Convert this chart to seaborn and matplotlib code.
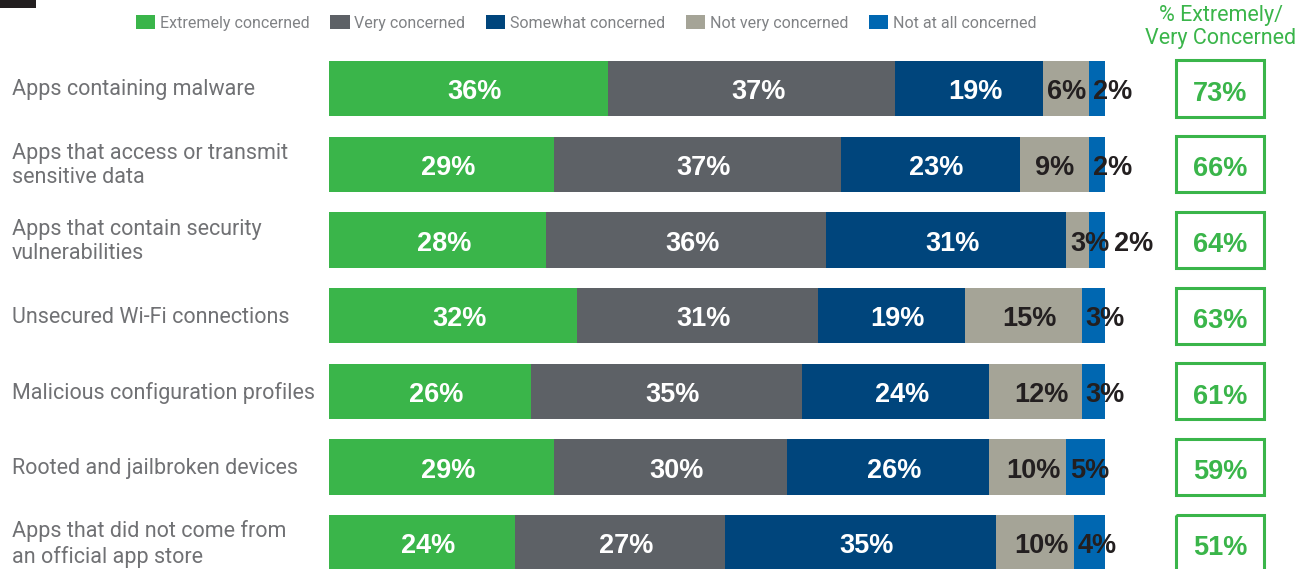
import matplotlib
matplotlib.use("Agg")
import matplotlib.pyplot as plt
from matplotlib.patches import Rectangle, Patch
import seaborn as sns
import pandas as pd
import numpy as np


# survey rows, top to bottom
categories = [
    "Apps containing malware",
    "Apps that access or transmit\nsensitive data",
    "Apps that contain security\nvulnerabilities",
    "Unsecured Wi-Fi connections",
    "Malicious configuration profiles",
    "Rooted and jailbroken devices",
    "Apps that did not come from\nan official app store",
]
levels = ["Extremely concerned", "Very concerned", "Somewhat concerned",
          "Not very concerned", "Not at all concerned"]
extremely = [36, 29, 28, 32, 26, 29, 24]
very = [37, 37, 36, 31, 35, 30, 27]
somewhat = [19, 23, 31, 19, 24, 26, 35]
not_very = [6, 9, 3, 15, 12, 10, 10]
not_at_all = [2, 2, 2, 3, 3, 5, 4]
top_two = [73, 66, 64, 63, 61, 59, 51]

colors = ["#3ab54a", "#5d6166", "#00457c", "#a5a497", "#0067b1"]
label_colors = ["white", "white", "white", "#231f20", "#231f20"]
green = "#3ab54a"
thin_font = ["Roboto", "DejaVu Sans"]

W, H = 1311, 569
sns.set_theme(style="white")
plt.rcParams["font.family"] = ["Liberation Sans", "DejaVu Sans"]

fig = plt.figure(figsize=(W / 100, H / 100), dpi=100)

# main axes: 0..100% spans x px 329 -> 1105, rows ~75.7 px apart
row_h = 75.7
x0, x1 = 329, 1105
top_px = 88.5 - row_h / 2
ax = fig.add_axes([x0 / W, 0, (x1 - x0) / W, 1 - top_px / H])
y_bottom = 6 + (H - 542.7) / row_h

values = np.array([extremely, very, somewhat, not_very, not_at_all])
cum = values.cumsum(axis=0)

# stacked bars: draw cumulative totals from the largest down
for i in range(len(levels) - 1, -1, -1):
    df = pd.DataFrame({"category": categories, "value": cum[i]})
    sns.barplot(data=df, x="value", y="category", orient="h", color=colors[i],
                width=0.73, saturation=1, errorbar=None, ax=ax, linewidth=0)

ax.set_xlim(0, 100)
ax.set_ylim(y_bottom, -0.5)
ax.axis("off")

# segment labels
for r in range(len(categories)):
    start = 0
    prev_small_start = None
    for i in range(len(levels)):
        v = values[i][r]
        txt = f"{v}%"
        kw = dict(color=label_colors[i], fontsize=19.5, fontweight="bold",
                  va="center", clip_on=False)
        if v <= 5:
            xs = start + 0.5
            if prev_small_start is not None and xs - prev_small_start < 5.5:
                xs = 100 + 1.2
            ax.text(xs, r + 0.05, txt, ha="left", **kw)
            prev_small_start = xs
        else:
            nudge = 0.8 if v >= 10 else 0
            ax.text(start + v / 2 + nudge, r + 0.05, txt, ha="center", **kw)
        start += v

    # "% extremely / very" box
    bx = (1176 - x0) / 7.76
    bw = 88 / 7.76
    ax.add_patch(Rectangle((bx, r - 0.37), bw, 0.74, fill=False, edgecolor=green,
                           linewidth=2.2, clip_on=False))
    ax.text(bx + bw / 2, r + 0.07, f"{top_two[r]}%", color=green, fontsize=19.5,
            fontweight="bold", ha="center", va="center", clip_on=False)

    # category label
    fig.text(12 / W, 1 - (90 + r * row_h) / H, categories[r], ha="left", va="center",
             color="#707174", fontsize=15.5, linespacing=1.22, family=thin_font)

# header of the right column
fig.text(1221 / W, 1 - 27 / H, "% Extremely/\nVery Concerned", ha="center", va="center",
         color=green, fontsize=15.5, linespacing=1.08, family=thin_font)

# legend
handles = [Patch(facecolor=c, edgecolor="none") for c in colors]
leg = fig.legend(handles, levels, ncol=5, frameon=False, loc="upper left",
                 bbox_to_anchor=(136 / W, 1 - 15 / H), borderpad=0, borderaxespad=0,
                 handlelength=1.2, handleheight=1.0, handletextpad=0.3,
                 columnspacing=1.3, prop={"family": thin_font, "size": 11.5})
for t in leg.get_texts():
    t.set_color("#808285")

# cropped dark block in the top-left corner
fig.patches.append(Rectangle((0, 1 - 8 / H), 36 / W, 8 / H, transform=fig.transFigure,
                             facecolor="#231f20", edgecolor="none"))

fig.savefig("out.png", dpi=100)
